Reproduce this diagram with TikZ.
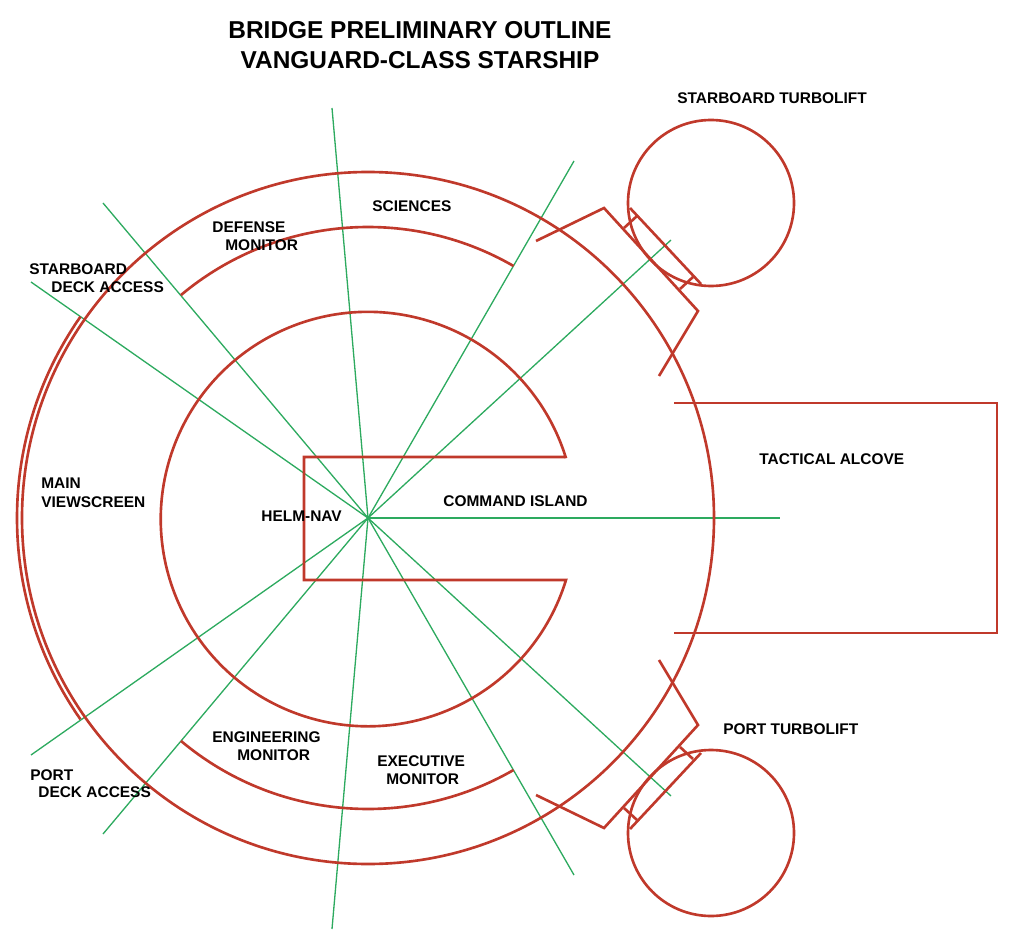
\documentclass[tikz,border=0pt]{standalone}
\usepackage{fontspec}
\setmainfont{Liberation Sans}
\definecolor{wallred}{HTML}{C0392B}
\definecolor{spokegreen}{HTML}{2DAA5F}
\tikzstyle{wall} = [draw=wallred, line width=1.5pt, line join=miter]
\tikzstyle{spoke} = [draw=spokegreen, line width=.75pt]
\tikzstyle{place} = [anchor=west, inner sep=0pt, font=\bfseries\fontsize{8.8}{10}\selectfont]
\tikzstyle{heading} = [inner sep=0pt, font=\bfseries\fontsize{13.9}{15}\selectfont]

\begin{document}
\begin{tikzpicture}[x=.02cm, y=.02cm]
	\useasboundingbox (0,0) rectangle (1024,931);
	\coordinate (hub) at (368,413);
	\coordinate (upperlift) at (711,728);
	\coordinate (lowerlift) at (711,98);
	% sight lines from the hub
	\foreach \x/\y in {780/413, 671/691, 574/770, 332/823, 103/728, 31/649,
		31/176, 103/97, 332/2, 574/56, 671/135}
		\draw[spoke] (hub) -- (\x,\y);
	% hull and viewscreen
	\draw[wall] (hub) circle[radius=346];
	\draw[wall] (hub) ++(145:351) arc[start angle=145, end angle=215, radius=351];
	% consoles
	\draw[wall] (hub) ++(60:291) arc[start angle=60, end angle=130, radius=291];
	\draw[wall] (hub) ++(230:291) arc[start angle=230, end angle=300, radius=291];
	% command island
	\draw[wall] (566,474) -- (304,474) -- (304,351) -- (566,351)
		arc[start angle=-17.1, end angle=-342.9, radius=207.2];
	% tactical alcove
	\draw[wall] (674,528) -- (997,528) -- (997,298) -- (674,298);
	% turbolifts
	\draw[wall] (upperlift) circle[radius=83];
	\draw[wall] (lowerlift) circle[radius=83];
	\draw[wall] (536,690) -- (604,723) -- (698,620) -- (659,555);
	\draw[wall] (536,136) -- (604,103) -- (698,206) -- (659,271);
	\draw[wall] (630,723) -- (701,647);
	\draw[wall] (630,102) -- (701,178);
	\draw[wall] (624,703) -- (637,715);
	\draw[wall] (680,642) -- (693,654);
	\draw[wall] (624,123) -- (637,111);
	\draw[wall] (680,184) -- (693,172);
	% labels
	\node[heading] (title) at (420,901) {BRIDGE PRELIMINARY OUTLINE};
	\node[heading] (subtitle) at (420,871) {VANGUARD-CLASS STARSHIP};
	\node[place] (stlift) at (677,833) {STARBOARD TURBOLIFT};
	\node[place] (sciences) at (372,725) {SCIENCES};
	\node[place] (defense) at (212,704) {DEFENSE};
	\node[place] (defmon) at (225,686) {MONITOR};
	\node[place] (stdeck) at (29,662) {STARBOARD};
	\node[place] (stdeckb) at (51,644) {DECK ACCESS};
	\node[place] (mainvs) at (41,448) {MAIN};
	\node[place] (mainvsb) at (41,429) {VIEWSCREEN};
	\node[place] (helm) at (261,415) {HELM-NAV};
	\node[place] (command) at (443,430) {COMMAND ISLAND};
	\node[place] (tactical) at (759,472) {TACTICAL ALCOVE};
	\node[place] (ptlift) at (723,202) {PORT TURBOLIFT};
	\node[place] (engineering) at (212,194) {ENGINEERING};
	\node[place] (engmon) at (237,176) {MONITOR};
	\node[place] (executive) at (377,170) {EXECUTIVE};
	\node[place] (execmon) at (386,152) {MONITOR};
	\node[place] (ptdeck) at (30,156) {PORT};
	\node[place] (ptdeckb) at (38,139) {DECK ACCESS};
\end{tikzpicture}
\end{document}
